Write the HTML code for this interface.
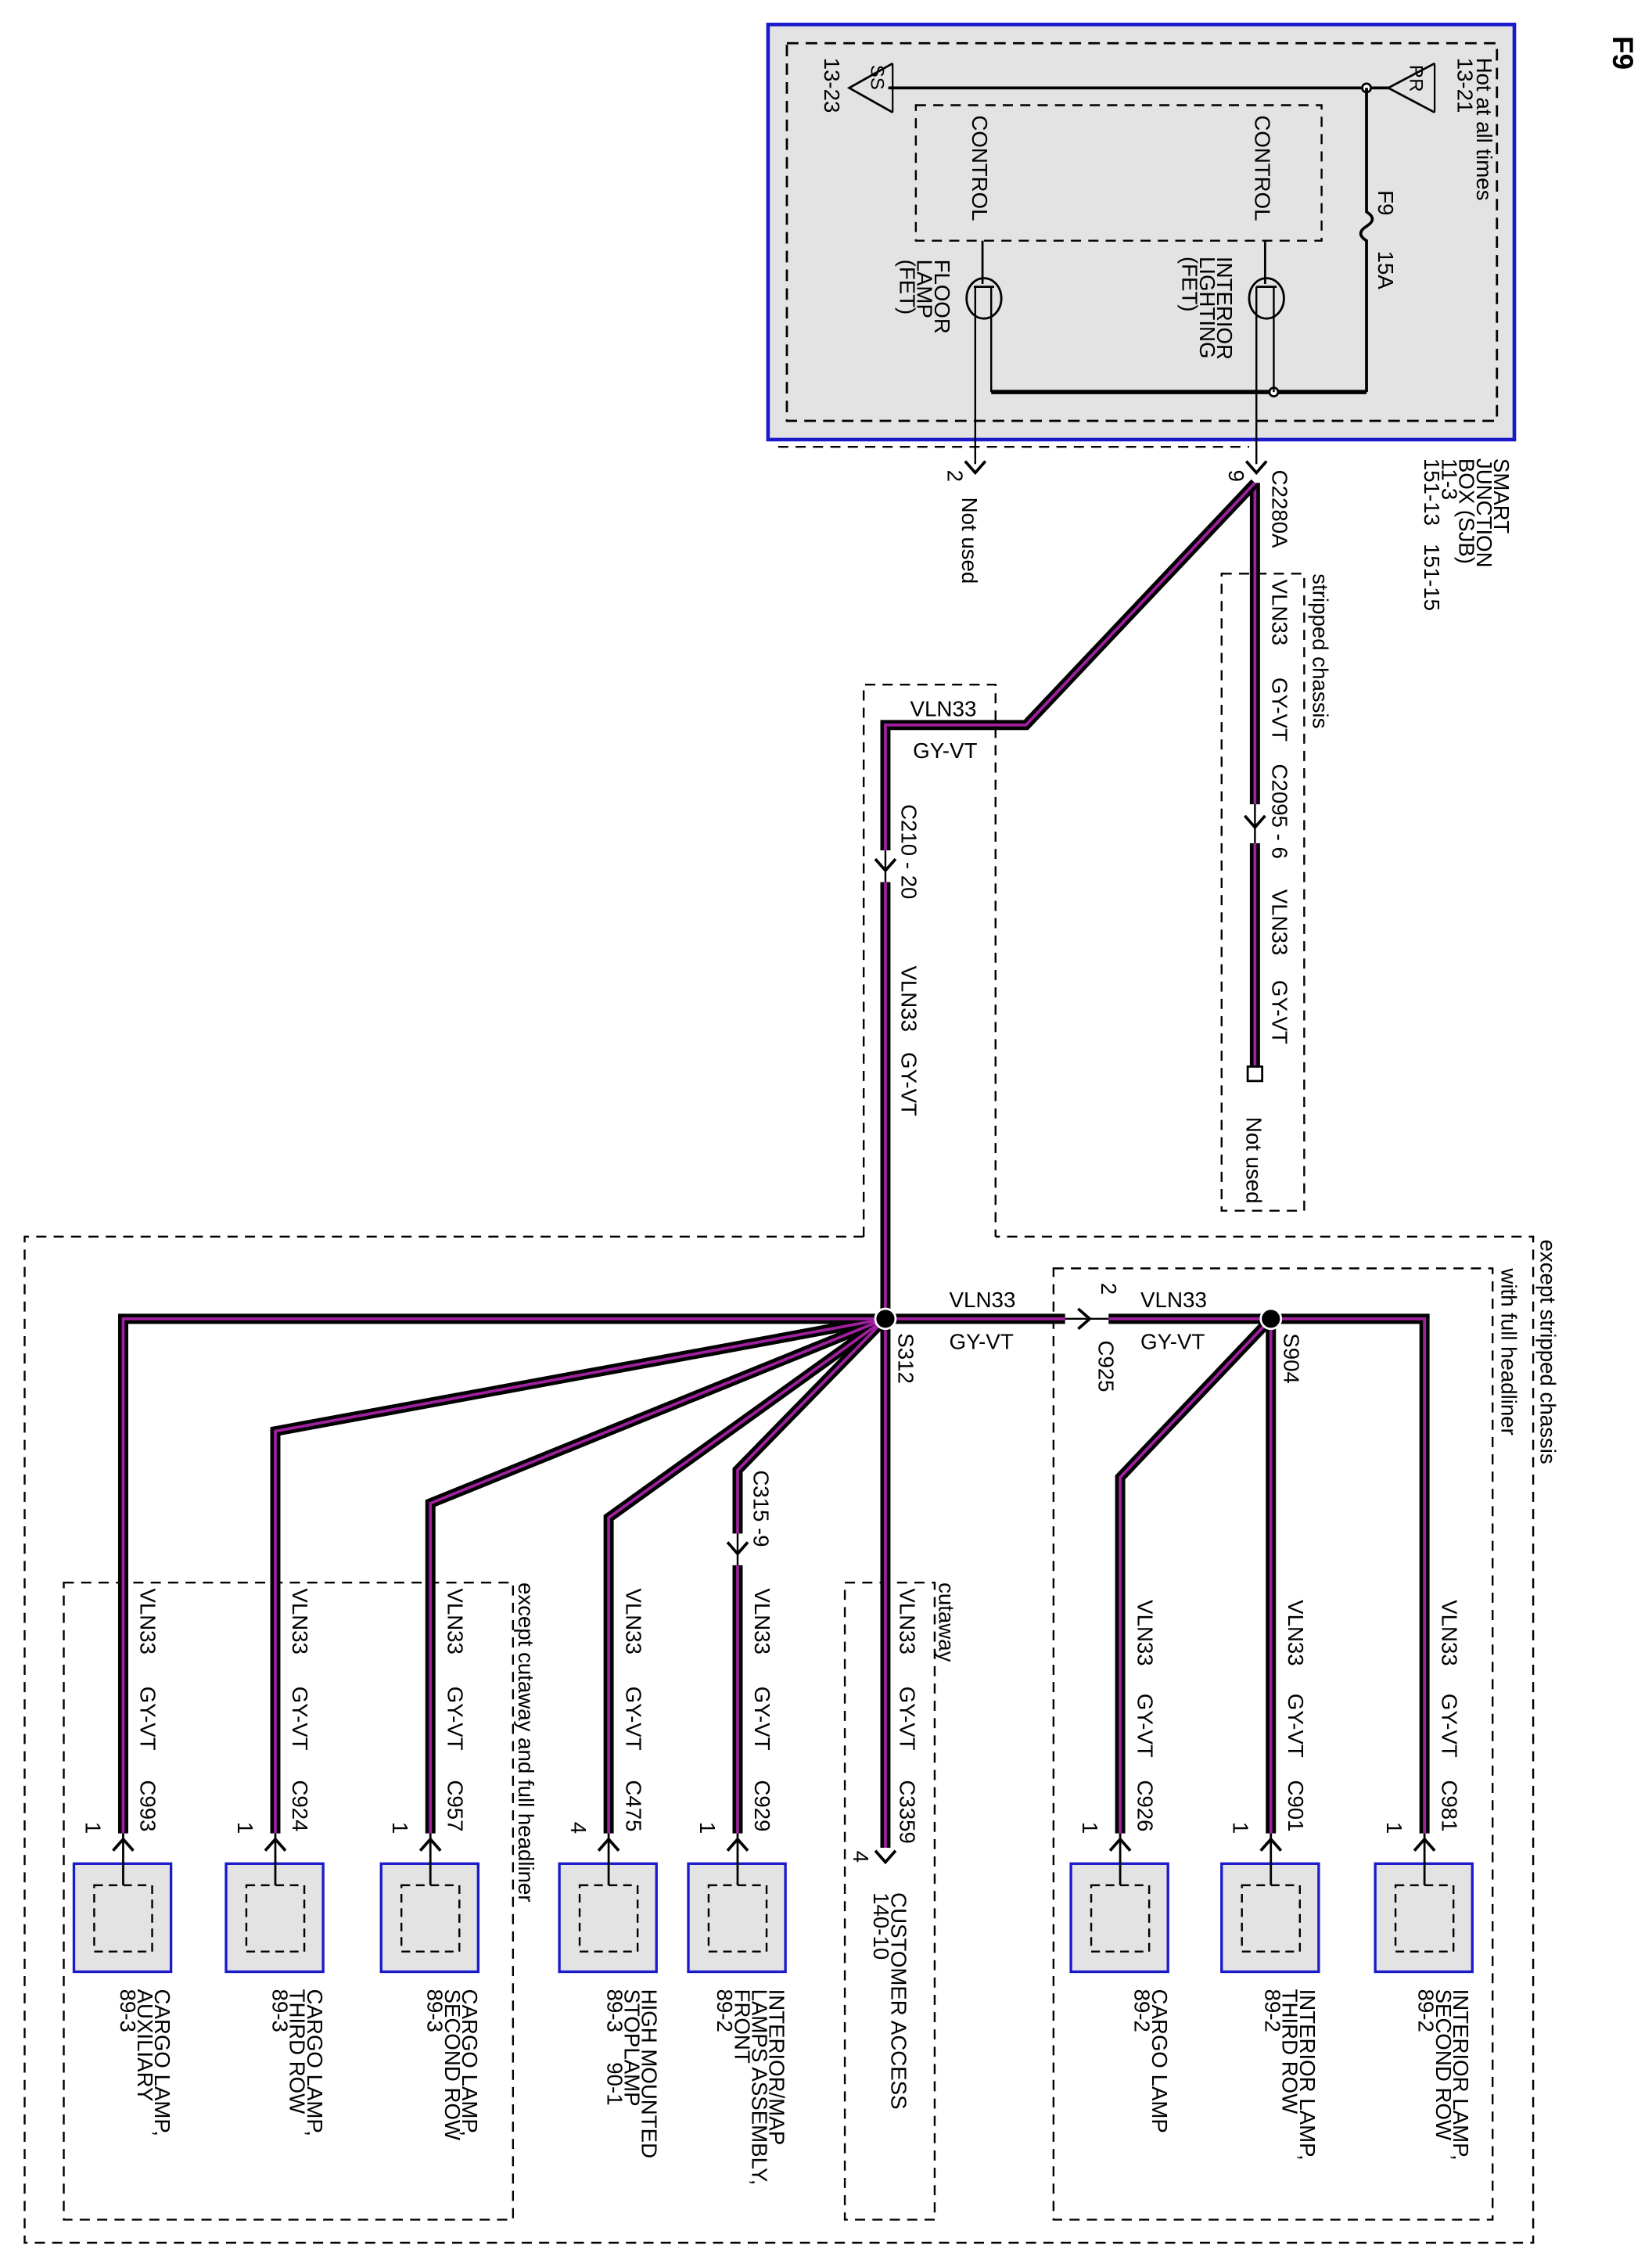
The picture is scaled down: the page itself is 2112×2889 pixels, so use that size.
<!DOCTYPE html>
<html><head><meta charset="utf-8"><style>
html,body{margin:0;padding:0;background:#fff}
svg{display:block}
text{font-family:"Liberation Sans",sans-serif;font-size:15px;fill:#000}
</style></head><body>
<svg width="2112" height="2889" viewBox="0 0 1140 1568" preserveAspectRatio="none" xmlns="http://www.w3.org/2000/svg">
<defs>
<g id="chev"><path d="M-7,-8 L0,0 L7,-8" fill="none" stroke="#000" stroke-width="2"/></g>
<g id="upchev"><path d="M-7,8 L0,0 L7,8" fill="none" stroke="#000" stroke-width="2"/></g>
</defs>
<text transform="translate(1113,25) rotate(90)" style="font-size:20px;font-weight:bold">F9</text>

<rect x="530" y="17" width="515" height="288" fill="#e3e3e3" stroke="#1a1acc" stroke-width="2.5"/>
<rect x="543" y="30" width="490" height="262" fill="none" stroke="#000" stroke-width="1.5" stroke-dasharray="8,5"/>
<rect x="632" y="73" width="280" height="94" fill="none" stroke="#000" stroke-width="1.3" stroke-dasharray="7,5"/>
<line x1="613" y1="61" x2="958" y2="61" stroke="#000" stroke-width="2"/>
<circle cx="943" cy="61" r="3" fill="#fff" stroke="#000" stroke-width="1.5"/>
<path d="M990,44 L958,61 L990,78" fill="none" stroke="#000" stroke-width="1.5"/>
<line x1="990" y1="44" x2="990" y2="78" stroke="#000" stroke-width="1.2"/>
<text transform="translate(973,45) rotate(90)" style="font-size:13px">RR</text>
<path d="M616,44 L586,61 L616,78" fill="none" stroke="#000" stroke-width="1.5"/>
<line x1="616" y1="44" x2="616" y2="78" stroke="#000" stroke-width="1.2"/>
<text transform="translate(601,45) rotate(90)" style="font-size:13px">SS</text>
<text transform="translate(1019,40) rotate(90)">Hot at all times</text>
<text transform="translate(1006,40) rotate(90)">13-21</text>
<text transform="translate(569,40) rotate(90)">13-23</text>
<path d="M943,61 L943,147 Q951,152 943,157 Q935,162 943,167 L943,272" fill="none" stroke="#000" stroke-width="2"/>
<text transform="translate(951,132) rotate(90)">F9</text>
<text transform="translate(951,174) rotate(90)">15A</text>
<line x1="684" y1="272" x2="943" y2="272" stroke="#000" stroke-width="3"/>
<circle cx="879" cy="272" r="3" fill="#fff" stroke="#000" stroke-width="1.5"/>
<text transform="translate(866,80) rotate(90)">CONTROL</text>
<text transform="translate(671,80) rotate(90)">CONTROL</text>
<line x1="873" y1="167" x2="873" y2="197" stroke="#000" stroke-width="1.5"/>
<ellipse cx="874" cy="207" rx="12" ry="14" fill="none" stroke="#000" stroke-width="1.5"/>
<line x1="867" y1="199" x2="881" y2="199" stroke="#000" stroke-width="1.5"/>
<line x1="867" y1="199" x2="867" y2="322" stroke="#000" stroke-width="1.3"/>
<line x1="879" y1="199" x2="879" y2="272" stroke="#000" stroke-width="1.3"/>
<line x1="678" y1="167" x2="678" y2="197" stroke="#000" stroke-width="1.5"/>
<ellipse cx="679" cy="207" rx="12" ry="14" fill="none" stroke="#000" stroke-width="1.5"/>
<line x1="672" y1="199" x2="686" y2="199" stroke="#000" stroke-width="1.5"/>
<line x1="673" y1="199" x2="673" y2="322" stroke="#000" stroke-width="1.3"/>
<line x1="684" y1="199" x2="684" y2="272" stroke="#000" stroke-width="1.3"/>
<text transform="translate(840,178) rotate(90)">INTERIOR</text>
<text transform="translate(828,178) rotate(90)">LIGHTING</text>
<text transform="translate(816,178) rotate(90)">(FET)</text>
<text transform="translate(645,180) rotate(90)">FLOOR</text>
<text transform="translate(633,180) rotate(90)">LAMP</text>
<text transform="translate(621,180) rotate(90)">(FET)</text>
<line x1="537" y1="310" x2="862" y2="310" stroke="#000" stroke-width="1.3" stroke-dasharray="7,5"/>
<use href="#chev" x="867" y="328"/>
<use href="#chev" x="673" y="328"/>
<text transform="translate(1031,318) rotate(90)">SMART</text>
<text transform="translate(1019,318) rotate(90)">JUNCTION</text>
<text transform="translate(1007,318) rotate(90)">BOX (SJB)</text>
<text transform="translate(995,318) rotate(90)">11-3</text>
<text transform="translate(983,318) rotate(90)">151-13 &#160; 151-15</text>
<text transform="translate(878,326) rotate(90)">C2280A</text>
<text transform="translate(848,326) rotate(90)">9</text>
<text transform="translate(654,326) rotate(90)">2</text>
<text transform="translate(664,345) rotate(90)">Not used</text>

<rect x="843" y="398" width="57" height="442" fill="none" stroke="#000" stroke-width="1.3" stroke-dasharray="7,5"/>
<text transform="translate(906,398) rotate(90)">stripped chassis</text>
<g fill="none" stroke-linejoin="miter">
<path d="M866,335 L866,558" stroke="#000" stroke-width="7"/>
<path d="M866,335 L866,558" stroke="#a020a0" stroke-width="2"/>
<path d="M866,585 L866,742" stroke="#000" stroke-width="7"/>
<path d="M866,585 L866,742" stroke="#a020a0" stroke-width="2"/>
</g>
<line x1="866" y1="558" x2="866" y2="585" stroke="#000" stroke-width="1.3"/>
<use href="#chev" x="866" y="574"/>
<rect x="861" y="740" width="10" height="10" fill="#fff" stroke="#000" stroke-width="1.5"/>
<text transform="translate(878,402) rotate(90)">VLN33</text>
<text transform="translate(878,470) rotate(90)">GY-VT</text>
<text transform="translate(878,530) rotate(90)">C2095 - 6</text>
<text transform="translate(878,617) rotate(90)">VLN33</text>
<text transform="translate(878,680) rotate(90)">GY-VT</text>
<text transform="translate(860,775) rotate(90)">Not used</text>

<path d="M596,858 L596,475 L687,475 L687,858" fill="none" stroke="#000" stroke-width="1.3" stroke-dasharray="7,5"/>
<path d="M596,858 L17,858 L17,1556 L1058,1556 L1058,858 L687,858" fill="none" stroke="#000" stroke-width="1.3" stroke-dasharray="7,5"/>
<text transform="translate(1063,860) rotate(90)">except stripped chassis</text>
<text transform="translate(1036,880) rotate(90)">with full headliner</text>
<rect x="727" y="880" width="303" height="660" fill="none" stroke="#000" stroke-width="1.3" stroke-dasharray="7,5"/>
<rect x="44" y="1098" width="310" height="442" fill="none" stroke="#000" stroke-width="1.3" stroke-dasharray="7,5"/>
<text transform="translate(358,1098) rotate(90)">except cutaway and full headliner</text>
<rect x="583" y="1098" width="62" height="442" fill="none" stroke="#000" stroke-width="1.3" stroke-dasharray="7,5"/>
<text transform="translate(648,1098) rotate(90)">cutaway</text>

<g fill="none" stroke-linejoin="miter">
<g stroke="#000" stroke-width="7">
<path d="M866,335 L708,503 L611,503 L611,590"/>
<path d="M611,612 L611,915"/>
<path d="M611,915 L735,915"/>
<path d="M765,915 L983,915 L983,1272"/>
<path d="M877,915 L877,1272"/>
<path d="M877,915 L773,1025 L773,1272"/>
<path d="M611,915 L85,915 L85,1272"/>
<path d="M611,915 L190,993 L190,1272"/>
<path d="M611,915 L297,1043 L297,1272"/>
<path d="M611,915 L420,1053 L420,1272"/>
<path d="M611,915 L509,1020 L509,1064"/>
<path d="M509,1086 L509,1272"/>
<path d="M611,915 L611,1282"/>
</g>
<g stroke="#a020a0" stroke-width="2">
<path d="M866,335 L708,503 L611,503 L611,590"/>
<path d="M611,612 L611,915"/>
<path d="M611,915 L735,915"/>
<path d="M765,915 L983,915 L983,1272"/>
<path d="M877,915 L877,1272"/>
<path d="M877,915 L773,1025 L773,1272"/>
<path d="M611,915 L85,915 L85,1272"/>
<path d="M611,915 L190,993 L190,1272"/>
<path d="M611,915 L297,1043 L297,1272"/>
<path d="M611,915 L420,1053 L420,1272"/>
<path d="M611,915 L509,1020 L509,1064"/>
<path d="M509,1086 L509,1272"/>
<path d="M611,915 L611,1282"/>
</g>
</g>
<line x1="611" y1="590" x2="611" y2="612" stroke="#000" stroke-width="1.3"/>
<use href="#chev" x="611" y="604"/>
<line x1="509" y1="1064" x2="509" y2="1086" stroke="#000" stroke-width="1.3"/>
<use href="#chev" x="509" y="1078"/>
<line x1="735" y1="915" x2="765" y2="915" stroke="#000" stroke-width="1.3"/>
<path d="M744,908 L752,915 L744,922" fill="none" stroke="#000" stroke-width="2"/>
<use href="#chev" x="611" y="1292"/>
<circle cx="611" cy="915" r="7" fill="#000" stroke="#fff" stroke-width="1.5"/>
<circle cx="877" cy="915" r="7" fill="#000" stroke="#fff" stroke-width="1.5"/>

<text x="628" y="497">VLN33</text>
<text x="630" y="526">GY-VT</text>
<text transform="translate(622,558) rotate(90)">C210 - 20</text>
<text transform="translate(622,670) rotate(90)">VLN33</text>
<text transform="translate(622,730) rotate(90)">GY-VT</text>
<text x="655" y="907">VLN33</text>
<text x="655" y="936">GY-VT</text>
<text x="787" y="907">VLN33</text>
<text x="787" y="936">GY-VT</text>
<text transform="translate(760,890) rotate(90)">2</text>
<text transform="translate(758,930) rotate(90)">C925</text>
<text transform="translate(620,925) rotate(90)">S312</text>
<text transform="translate(886,925) rotate(90)">S904</text>
<text transform="translate(520,1020) rotate(90)">C315 -9</text>

<g>
<text transform="translate(995,1110) rotate(90)">VLN33</text><text transform="translate(995,1175) rotate(90)">GY-VT</text><text transform="translate(995,1235) rotate(90)">C981</text>
<text transform="translate(889,1110) rotate(90)">VLN33</text><text transform="translate(889,1175) rotate(90)">GY-VT</text><text transform="translate(889,1235) rotate(90)">C901</text>
<text transform="translate(785,1110) rotate(90)">VLN33</text><text transform="translate(785,1175) rotate(90)">GY-VT</text><text transform="translate(785,1235) rotate(90)">C926</text>
<text transform="translate(621,1102) rotate(90)">VLN33</text><text transform="translate(621,1170) rotate(90)">GY-VT</text><text transform="translate(621,1235) rotate(90)">C3359</text>
<text transform="translate(521,1102) rotate(90)">VLN33</text><text transform="translate(521,1170) rotate(90)">GY-VT</text><text transform="translate(521,1235) rotate(90)">C929</text>
<text transform="translate(432,1102) rotate(90)">VLN33</text><text transform="translate(432,1170) rotate(90)">GY-VT</text><text transform="translate(432,1235) rotate(90)">C475</text>
<text transform="translate(309,1102) rotate(90)">VLN33</text><text transform="translate(309,1170) rotate(90)">GY-VT</text><text transform="translate(309,1235) rotate(90)">C957</text>
<text transform="translate(202,1102) rotate(90)">VLN33</text><text transform="translate(202,1170) rotate(90)">GY-VT</text><text transform="translate(202,1235) rotate(90)">C924</text>
<text transform="translate(97,1102) rotate(90)">VLN33</text><text transform="translate(97,1170) rotate(90)">GY-VT</text><text transform="translate(97,1235) rotate(90)">C993</text>
</g>
<text transform="translate(957,1264) rotate(90)">1</text>
<text transform="translate(851,1264) rotate(90)">1</text>
<text transform="translate(747,1264) rotate(90)">1</text>
<text transform="translate(483,1264) rotate(90)">1</text>
<text transform="translate(394,1264) rotate(90)">4</text>
<text transform="translate(271,1264) rotate(90)">1</text>
<text transform="translate(164,1264) rotate(90)">1</text>
<text transform="translate(59,1264) rotate(90)">1</text>
<text transform="translate(589,1284) rotate(90)">4</text>

<g>
<g transform="translate(983,0)">
<rect x="-34" y="1293" width="67" height="75" fill="#e3e3e3" stroke="#1a1acc" stroke-width="1.8"/>
<rect x="-20" y="1308" width="40" height="46" fill="none" stroke="#000" stroke-width="1.3" stroke-dasharray="6,4"/>
<line x1="0" y1="1272" x2="0" y2="1308" stroke="#000" stroke-width="1.5"/><use href="#upchev" x="0" y="1276"/>
</g>
<g transform="translate(877,0)">
<rect x="-34" y="1293" width="67" height="75" fill="#e3e3e3" stroke="#1a1acc" stroke-width="1.8"/>
<rect x="-20" y="1308" width="40" height="46" fill="none" stroke="#000" stroke-width="1.3" stroke-dasharray="6,4"/>
<line x1="0" y1="1272" x2="0" y2="1308" stroke="#000" stroke-width="1.5"/><use href="#upchev" x="0" y="1276"/>
</g>
<g transform="translate(773,0)">
<rect x="-34" y="1293" width="67" height="75" fill="#e3e3e3" stroke="#1a1acc" stroke-width="1.8"/>
<rect x="-20" y="1308" width="40" height="46" fill="none" stroke="#000" stroke-width="1.3" stroke-dasharray="6,4"/>
<line x1="0" y1="1272" x2="0" y2="1308" stroke="#000" stroke-width="1.5"/><use href="#upchev" x="0" y="1276"/>
</g>
<g transform="translate(509,0)">
<rect x="-34" y="1293" width="67" height="75" fill="#e3e3e3" stroke="#1a1acc" stroke-width="1.8"/>
<rect x="-20" y="1308" width="40" height="46" fill="none" stroke="#000" stroke-width="1.3" stroke-dasharray="6,4"/>
<line x1="0" y1="1272" x2="0" y2="1308" stroke="#000" stroke-width="1.5"/><use href="#upchev" x="0" y="1276"/>
</g>
<g transform="translate(420,0)">
<rect x="-34" y="1293" width="67" height="75" fill="#e3e3e3" stroke="#1a1acc" stroke-width="1.8"/>
<rect x="-20" y="1308" width="40" height="46" fill="none" stroke="#000" stroke-width="1.3" stroke-dasharray="6,4"/>
<line x1="0" y1="1272" x2="0" y2="1308" stroke="#000" stroke-width="1.5"/><use href="#upchev" x="0" y="1276"/>
</g>
<g transform="translate(297,0)">
<rect x="-34" y="1293" width="67" height="75" fill="#e3e3e3" stroke="#1a1acc" stroke-width="1.8"/>
<rect x="-20" y="1308" width="40" height="46" fill="none" stroke="#000" stroke-width="1.3" stroke-dasharray="6,4"/>
<line x1="0" y1="1272" x2="0" y2="1308" stroke="#000" stroke-width="1.5"/><use href="#upchev" x="0" y="1276"/>
</g>
<g transform="translate(190,0)">
<rect x="-34" y="1293" width="67" height="75" fill="#e3e3e3" stroke="#1a1acc" stroke-width="1.8"/>
<rect x="-20" y="1308" width="40" height="46" fill="none" stroke="#000" stroke-width="1.3" stroke-dasharray="6,4"/>
<line x1="0" y1="1272" x2="0" y2="1308" stroke="#000" stroke-width="1.5"/><use href="#upchev" x="0" y="1276"/>
</g>
<g transform="translate(85,0)">
<rect x="-34" y="1293" width="67" height="75" fill="#e3e3e3" stroke="#1a1acc" stroke-width="1.8"/>
<rect x="-20" y="1308" width="40" height="46" fill="none" stroke="#000" stroke-width="1.3" stroke-dasharray="6,4"/>
<line x1="0" y1="1272" x2="0" y2="1308" stroke="#000" stroke-width="1.5"/><use href="#upchev" x="0" y="1276"/>
</g>
</g>

<text transform="translate(1003,1380) rotate(90)">INTERIOR LAMP,</text>
<text transform="translate(991,1380) rotate(90)">SECOND ROW</text>
<text transform="translate(979,1380) rotate(90)">89-2</text>
<text transform="translate(897,1380) rotate(90)">INTERIOR LAMP,</text>
<text transform="translate(885,1380) rotate(90)">THIRD ROW</text>
<text transform="translate(873,1380) rotate(90)">89-2</text>
<text transform="translate(795,1380) rotate(90)">CARGO LAMP</text>
<text transform="translate(783,1380) rotate(90)">89-2</text>
<text transform="translate(615,1313) rotate(90)">CUSTOMER ACCESS</text>
<text transform="translate(603,1313) rotate(90)">140-10</text>
<text transform="translate(531,1380) rotate(90)">INTERIOR/MAP</text>
<text transform="translate(519,1380) rotate(90)">LAMPS ASSEMBLY,</text>
<text transform="translate(507,1380) rotate(90)">FRONT</text>
<text transform="translate(495,1380) rotate(90)">89-2</text>
<text transform="translate(443,1380) rotate(90)">HIGH MOUNTED</text>
<text transform="translate(431,1380) rotate(90)">STOPLAMP</text>
<text transform="translate(419,1380) rotate(90)">89-3 &#160; &#160; 90-1</text>
<text transform="translate(319,1380) rotate(90)">CARGO LAMP,</text>
<text transform="translate(307,1380) rotate(90)">SECOND ROW</text>
<text transform="translate(295,1380) rotate(90)">89-3</text>
<text transform="translate(212,1380) rotate(90)">CARGO LAMP,</text>
<text transform="translate(200,1380) rotate(90)">THIRD ROW</text>
<text transform="translate(188,1380) rotate(90)">89-3</text>
<text transform="translate(107,1380) rotate(90)">CARGO LAMP,</text>
<text transform="translate(95,1380) rotate(90)">AUXILIARY</text>
<text transform="translate(83,1380) rotate(90)">89-3</text>
</svg>
</body></html>
